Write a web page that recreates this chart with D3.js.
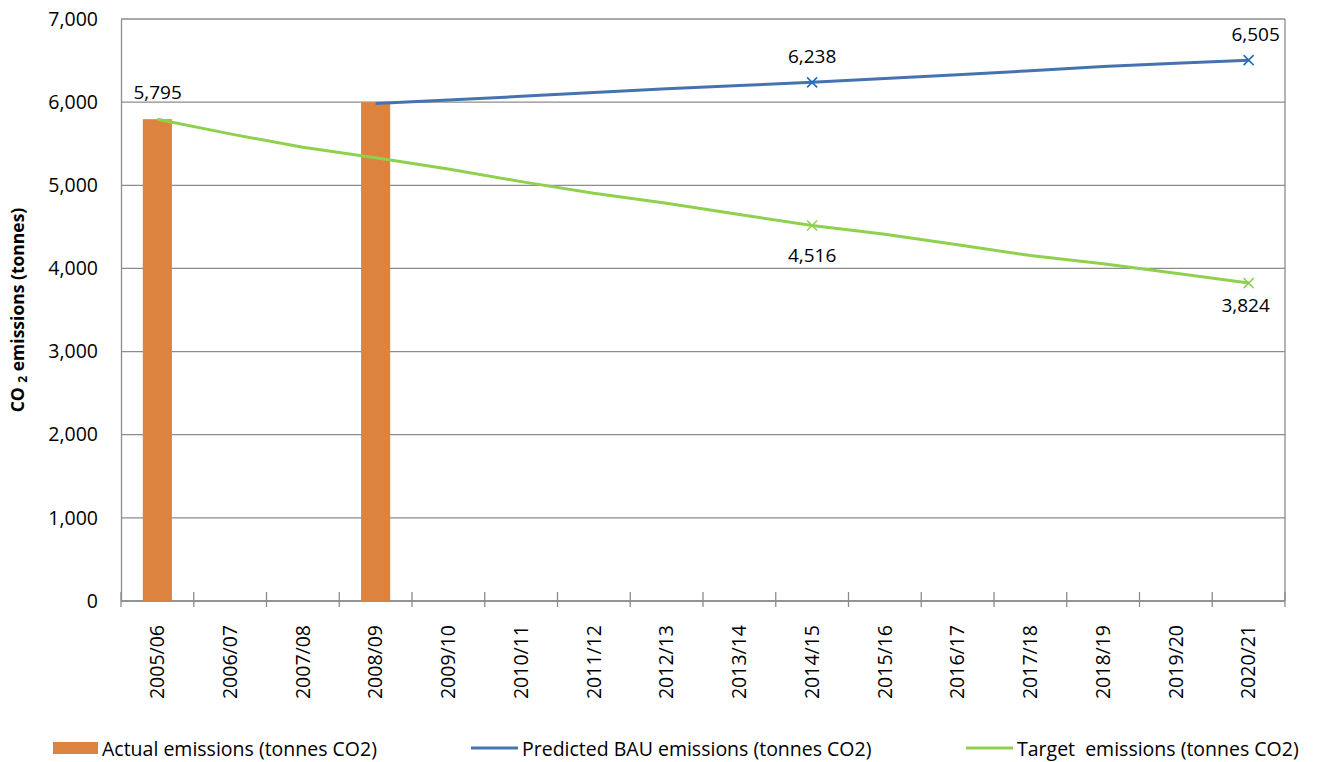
<!DOCTYPE html>
<html>
<head>
<meta charset="utf-8">
<script src="https://cdn.jsdelivr.net/npm/d3@7"></script>
<style>
  body { margin: 0; background: #fff; }
  text { font-family: "Open Sans", "DejaVu Sans", sans-serif; fill: #000; white-space: pre; }
</style>
</head>
<body>
<svg id="chart" width="1319" height="762"></svg>
<script>
var years = ['2005/06','2006/07','2007/08','2008/09','2009/10','2010/11','2011/12','2012/13',
  '2013/14','2014/15','2015/16','2016/17','2017/18','2018/19','2019/20','2020/21'];
// null where there is no value
var actual = [5795, null, null, 6000, null, null, null, null, null, null, null, null, null, null, null, null];
var predicted = [null, null, null, 5985, 6025, 6070, 6115, 6160, 6200, 6238, 6285, 6330, 6378, 6430, 6468, 6505];
var target = [5795, 5618, 5457, 5332, 5197, 5044, 4904, 4784, 4648, 4516, 4411, 4285, 4155, 4055, 3942, 3824];
var markedYears = ['2014/15', '2020/21'];
var yTicks = [0, 1000, 2000, 3000, 4000, 5000, 6000, 7000];

var orange = '#DC843F', blue = '#4672B0', blueMark = '#1F6FC0', green = '#8FD14F', grid = '#8C8C8C';

var svg = d3.select('#chart');
var plotL = 121, plotR = 1285, plotT = 19, plotB = 601;

var x = d3.scaleBand().domain(years).range([plotL, plotR]);
var y = d3.scaleLinear().domain([0, 7000]).range([plotB, plotT]);
var fmt = d3.format(',');

// gridlines
svg.append('g').selectAll('line').data(yTicks).join('line')
  .attr('x1', plotL).attr('x2', plotR)
  .attr('y1', function(d){ return y(d); }).attr('y2', function(d){ return y(d); })
  .attr('stroke', grid).attr('stroke-width', 1.3);

// plot border right
svg.append('line').attr('x1', plotR).attr('x2', plotR).attr('y1', plotT).attr('y2', plotB)
  .attr('stroke', grid).attr('stroke-width', 1.3);

// y axis
var yAxis = svg.append('g').attr('transform', 'translate(' + plotL + ',0)')
  .call(d3.axisLeft(y).tickValues(yTicks).tickFormat(fmt).tickSize(0).tickPadding(23));
yAxis.select('.domain').attr('stroke', grid).attr('stroke-width', 1.3);
yAxis.selectAll('text').style('font-size', '19.5px').attr('fill', '#000');

// x axis
var xAxis = svg.append('g').attr('transform', 'translate(0,' + plotB + ')')
  .call(d3.axisBottom(x).tickSize(0));
xAxis.select('.domain').remove();
xAxis.append('line').attr('x1', plotL).attr('x2', plotR).attr('stroke', grid).attr('stroke-width', 1.3);
xAxis.selectAll('.tickmark').data(d3.range(years.length + 1)).join('line')
  .attr('class', 'tickmark')
  .attr('x1', function(i){ return plotL + i * x.step(); })
  .attr('x2', function(i){ return plotL + i * x.step(); })
  .attr('y1', -9).attr('y2', 6)
  .attr('stroke', grid).attr('stroke-width', 1.3);
xAxis.selectAll('.tick text')
  .style('font-size', '19.5px').attr('fill', '#000')
  .attr('text-anchor', 'end')
  .attr('transform', 'translate(0,24) rotate(-90)')
  .attr('x', 0).attr('y', 0).attr('dy', '0.35em');

// y axis title
var title = svg.append('text')
  .attr('transform', 'translate(24,' + ((plotT + plotB) / 2) + ') rotate(-90)')
  .attr('text-anchor', 'middle')
  .style('font-size', '17.5px').style('font-weight', 'bold');
title.append('tspan').text('CO ');
title.append('tspan').text('2').style('font-size', '12px').attr('dy', '3');
title.append('tspan').text(' emissions (tonnes)').attr('dy', '-3');

// bars
var barW = x.bandwidth() * 0.4;
svg.append('g').selectAll('rect')
  .data(years.map(function(d, i){ return {year: d, v: actual[i]}; }).filter(function(d){ return d.v != null; }))
  .join('rect')
  .attr('x', function(d){ return x(d.year) + (x.bandwidth() - barW) / 2; })
  .attr('width', barW)
  .attr('y', function(d){ return y(d.v); })
  .attr('height', function(d){ return y(0) - y(d.v); })
  .attr('fill', orange);

function series(vals) {
  return years.map(function(d, i){ return {year: d, v: vals[i]}; }).filter(function(d){ return d.v != null; });
}
var line = d3.line()
  .x(function(d){ return x(d.year) + x.bandwidth() / 2; })
  .y(function(d){ return y(d.v); });

svg.append('path').datum(series(predicted)).attr('d', line)
  .attr('fill', 'none').attr('stroke', blue).attr('stroke-width', 3);
svg.append('path').datum(series(target)).attr('d', line)
  .attr('fill', 'none').attr('stroke', green).attr('stroke-width', 3);

// x markers
function markers(vals, color) {
  var pts = series(vals).filter(function(d){ return markedYears.indexOf(d.year) >= 0; });
  var g = svg.append('g');
  pts.forEach(function(d){
    var cx = x(d.year) + x.bandwidth() / 2, cy = y(d.v), s = 5;
    g.append('path')
      .attr('d', 'M' + (cx - s) + ',' + (cy - s) + 'L' + (cx + s) + ',' + (cy + s) +
                 'M' + (cx - s) + ',' + (cy + s) + 'L' + (cx + s) + ',' + (cy - s))
      .attr('stroke', color).attr('stroke-width', 1.6).attr('fill', 'none');
  });
  return pts;
}
var pPts = markers(predicted, blueMark);
var tPts = markers(target, green);

// data labels (offsets as placed in the original)
var labels = svg.append('g').style('font-size', '19px');
var pOff = [[0, -19], [7, -19.5]];
var tOff = [[0, 36.5], [-3, 29]];
pPts.forEach(function(d, i){
  labels.append('text')
    .attr('x', x(d.year) + x.bandwidth() / 2 + pOff[i][0])
    .attr('y', y(d.v) + pOff[i][1])
    .attr('text-anchor', 'middle').text(fmt(d.v));
});
tPts.forEach(function(d, i){
  labels.append('text')
    .attr('x', x(d.year) + x.bandwidth() / 2 + tOff[i][0])
    .attr('y', y(d.v) + tOff[i][1])
    .attr('text-anchor', 'middle').text(fmt(d.v));
});
labels.append('text')
  .attr('x', x(years[0]) + x.bandwidth() / 2 - 24)
  .attr('y', y(actual[0]) - 20)
  .text(fmt(actual[0]));

// legend
var leg = svg.append('g').style('font-size', '19.5px');
leg.append('rect').attr('x', 53).attr('y', 742).attr('width', 45).attr('height', 12).attr('fill', orange);
leg.append('text').attr('x', 102).attr('y', 756).text('Actual emissions (tonnes CO2)');
leg.append('line').attr('x1', 471).attr('x2', 518).attr('y1', 748).attr('y2', 748)
  .attr('stroke', blue).attr('stroke-width', 3);
leg.append('text').attr('x', 522).attr('y', 756).text('Predicted BAU emissions (tonnes CO2)');
leg.append('line').attr('x1', 966).attr('x2', 1013).attr('y1', 748).attr('y2', 748)
  .attr('stroke', green).attr('stroke-width', 3);
leg.append('text').attr('x', 1017).attr('y', 756).text('Target  emissions (tonnes CO2)');
</script>
</body>
</html>
